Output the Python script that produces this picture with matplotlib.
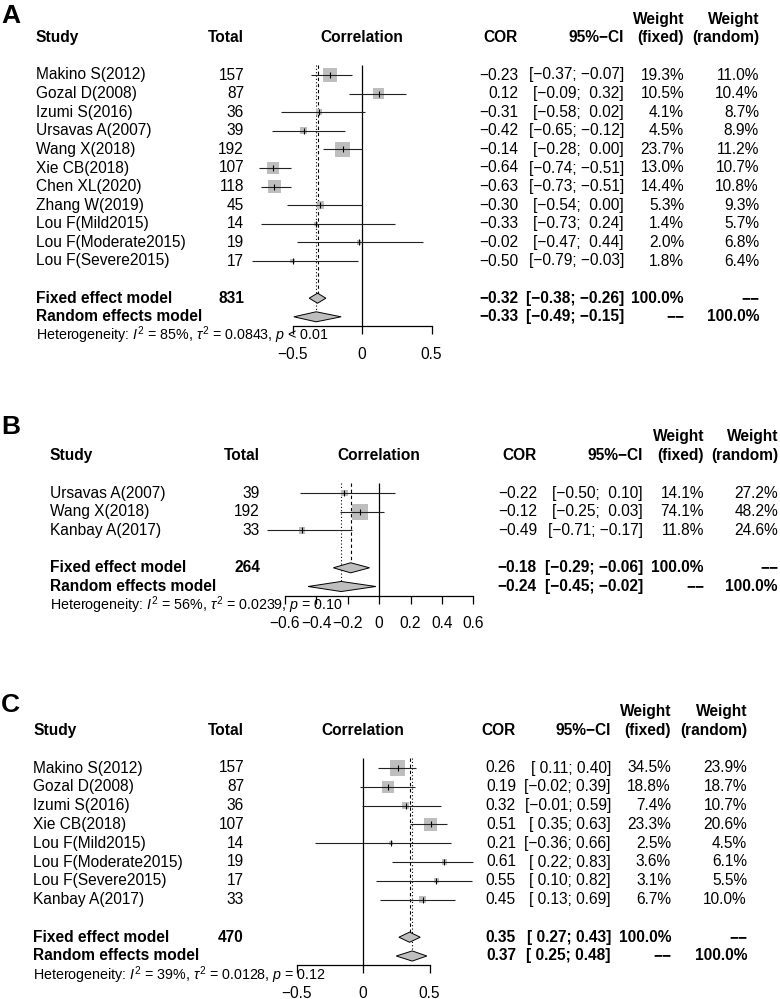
"""Three forest plots (A, B, C) of pooled correlations, meta-style layout."""
import numpy as np
import matplotlib
matplotlib.use("Agg")
import matplotlib.pyplot as plt
from matplotlib.patches import Polygon
from matplotlib.transforms import blended_transform_factory

plt.rcParams["font.family"] = ["Liberation Sans", "DejaVu Sans"]
plt.rcParams["mathtext.fontset"] = "custom"
plt.rcParams["mathtext.rm"] = "Liberation Sans"
plt.rcParams["mathtext.it"] = "Liberation Sans:italic"
plt.rcParams["mathtext.bf"] = "Liberation Sans:bold"

# ── Panel A ───────────────────────────────────────────────────────────────────
studies_a = ["Makino S(2012)", "Gozal D(2008)", "Izumi S(2016)", "Ursavas A(2007)",
             "Wang X(2018)", "Xie CB(2018)", "Chen XL(2020)", "Zhang W(2019)",
             "Lou F(Mild2015)", "Lou F(Moderate2015)", "Lou F(Severe2015)"]
total_a = [157, 87, 36, 39, 192, 107, 118, 45, 14, 19, 17]
cor_a = [-0.23, 0.12, -0.31, -0.42, -0.14, -0.64, -0.63, -0.30, -0.33, -0.02, -0.50]
lo_a = [-0.37, -0.09, -0.58, -0.65, -0.28, -0.74, -0.73, -0.54, -0.73, -0.47, -0.79]
hi_a = [-0.07, 0.32, 0.02, -0.12, 0.00, -0.51, -0.51, 0.00, 0.24, 0.44, -0.03]
wf_a = [19.3, 10.5, 4.1, 4.5, 23.7, 13.0, 14.4, 5.3, 1.4, 2.0, 1.8]
wr_a = [11.0, 10.4, 8.7, 8.9, 11.2, 10.7, 10.8, 9.3, 5.7, 6.8, 6.4]
fixed_a = (-0.32, -0.38, -0.26)
random_a = (-0.33, -0.49, -0.15)
het_a = ("85%", "0.0843", "< 0.01")
ticks_a = [-0.5, 0, 0.5]

# ── Panel B ───────────────────────────────────────────────────────────────────
studies_b = ["Ursavas A(2007)", "Wang X(2018)", "Kanbay A(2017)"]
total_b = [39, 192, 33]
cor_b = [-0.22, -0.12, -0.49]
lo_b = [-0.50, -0.25, -0.71]
hi_b = [0.10, 0.03, -0.17]
wf_b = [14.1, 74.1, 11.8]
wr_b = [27.2, 48.2, 24.6]
fixed_b = (-0.18, -0.29, -0.06)
random_b = (-0.24, -0.45, -0.02)
het_b = ("56%", "0.0239", "= 0.10")
ticks_b = [-0.6, -0.4, -0.2, 0, 0.2, 0.4, 0.6]

# ── Panel C ───────────────────────────────────────────────────────────────────
studies_c = ["Makino S(2012)", "Gozal D(2008)", "Izumi S(2016)", "Xie CB(2018)",
             "Lou F(Mild2015)", "Lou F(Moderate2015)", "Lou F(Severe2015)",
             "Kanbay A(2017)"]
total_c = [157, 87, 36, 107, 14, 19, 17, 33]
cor_c = [0.26, 0.19, 0.32, 0.51, 0.21, 0.61, 0.55, 0.45]
lo_c = [0.11, -0.02, -0.01, 0.35, -0.36, 0.22, 0.10, 0.13]
hi_c = [0.40, 0.39, 0.59, 0.63, 0.66, 0.83, 0.82, 0.69]
wf_c = [34.5, 18.8, 7.4, 23.3, 2.5, 3.6, 3.1, 6.7]
wr_c = [23.9, 18.7, 10.7, 20.6, 4.5, 6.1, 5.5, 10.0]
fixed_c = (0.35, 0.27, 0.43)
random_c = (0.37, 0.25, 0.48)
het_c = ("39%", "0.0128", "= 0.12")
ticks_c = [-0.5, 0, 0.5]

W, H = 780, 999
FS = 11.2
GREY = "#bebebe"
MINUS = "\u2212"
NONE = MINUS * 2   # "--" placeholder for the missing weight


def fmt(v):
    return f"{v:.2f}".replace("-", MINUS)


def pad_col(vals):
    """R-style column: positives get a leading space if any value is negative."""
    s = [fmt(v) for v in vals]
    if any(v < 0 for v in vals):
        s = [x if v < 0 else " " + x for x, v in zip(s, vals)]
    return s


def forest(fig, label, studies, total, cor, lo, hi, wf, wr,
           fixed, random, het, ticks, lay):
    n = len(studies)
    y0, sp, xc, xs = lay["y0"], lay["sp"], lay["xc"], lay["xs"]
    xlim = lay["xlim"]
    ytop, ybot = -0.6, n + 2.5
    top_px = y0 + ytop * sp
    bot_px = y0 + ybot * sp
    left_px = xc + xs * xlim[0]
    ax = fig.add_axes([left_px / W, 1 - bot_px / H,
                       xs * (xlim[1] - xlim[0]) / W, (bot_px - top_px) / H])
    ax.set_xlim(*xlim)
    ax.set_ylim(ybot, ytop)
    ax.patch.set_alpha(0)
    for s in ("top", "left", "right"):
        ax.spines[s].set_visible(False)
    ax.spines["bottom"].set_bounds(ticks[0], ticks[-1])
    ax.spines["bottom"].set_linewidth(0.9)
    ax.set_yticks([])
    ax.set_xticks(ticks, [f"{t:g}".replace("-", MINUS) for t in ticks])
    ax.tick_params(axis="x", direction="out", length=5.8, width=0.9,
                   labelsize=FS, pad=9)

    y = np.arange(n)
    cor = np.asarray(cor)
    wf_arr = np.asarray(wf)

    # reference lines: zero, fixed (dashed), random (dotted)
    ax.vlines(0, -0.55, ybot, color="black", lw=0.9, zorder=1)
    ax.vlines(fixed[0], -0.55, n + 1, color="black", lw=0.8,
              ls=(0, (3, 2.5)), zorder=1)
    ax.vlines(random[0], -0.55, n + 2, color="black", lw=0.8,
              ls=(0, (1, 2)), zorder=1)

    # study squares, CIs and centre ticks
    side = 11.3 * np.sqrt(wf_arr / wf_arr.max())
    ax.scatter(cor, y, marker="s", s=side ** 2, color=GREY, lw=0,
               zorder=2, clip_on=False)
    ax.hlines(y, lo, hi, color="#222222", lw=0.8, zorder=3, clip_on=False)
    ax.scatter(cor, y, marker="|", s=18, color="black", lw=0.8,
               zorder=4, clip_on=False)

    # pooled diamonds
    for (est, l, h), yy in zip([fixed, random], [n + 1, n + 2]):
        ax.add_patch(Polygon([[l, yy], [est, yy - 0.27], [h, yy], [est, yy + 0.27]],
                             closed=True, fc=GREY, ec="black", lw=0.7,
                             zorder=3, clip_on=False))

    # text columns
    tr = blended_transform_factory(fig.transFigure, ax.transData)
    cx = {k: v / W for k, v in lay["cols"].items()}

    def put(col, yy, s, ha="right", bold=False, size=FS):
        ax.text(cx[col], yy, s, transform=tr, ha=ha, va="center",
                fontsize=size, fontweight="bold" if bold else "normal")

    hy = -2
    put("study", hy, "Study", ha="left", bold=True)
    put("total", hy, "Total", bold=True)
    ax.text(0, hy, "Correlation", ha="center", va="center",
            fontsize=FS, fontweight="bold")
    put("cor", hy, "COR", bold=True)
    put("ci", hy, "95%" + MINUS + "CI", bold=True)
    put("wf", hy - 1, "Weight", bold=True)
    put("wf", hy, "(fixed)", bold=True)
    put("wr", hy - 1, "Weight", bold=True)
    put("wr", hy, "(random)", bold=True)

    los = pad_col(list(lo) + [fixed[1], random[1]])
    his = pad_col(list(hi) + [fixed[2], random[2]])
    ci = [f"[{a}; {b}]" for a, b in zip(los, his)]

    for i in range(n):
        put("study", i, studies[i], ha="left")
        put("total", i, str(total[i]))
        put("cor", i, fmt(cor[i]))
        put("ci", i, ci[i])
        put("wf", i, f"{wf[i]:.1f}%")
        put("wr", i, f"{wr[i]:.1f}%")

    put("study", n + 1, "Fixed effect model", ha="left", bold=True)
    put("total", n + 1, str(sum(total)), bold=True)
    put("cor", n + 1, fmt(fixed[0]), bold=True)
    put("ci", n + 1, ci[n], bold=True)
    put("wf", n + 1, "100.0%", bold=True)
    put("wr", n + 1, NONE, bold=True)

    put("study", n + 2, "Random effects model", ha="left", bold=True)
    put("cor", n + 2, fmt(random[0]), bold=True)
    put("ci", n + 2, ci[n + 1], bold=True)
    put("wf", n + 2, NONE, bold=True)
    put("wr", n + 2, "100.0%", bold=True)

    i2, tau2, p = het
    put("study", n + 3,
        rf"Heterogeneity: $I^2$ = {i2.replace('%', '')}%, $\tau^2$ = {tau2}, $p$ {p}",
        ha="left", size=10.3)

    fig.text(1 / W, 1 - lay["letter_y"] / H, label, fontsize=19,
             fontweight="bold", ha="left", va="center")
    return ax


fig = plt.figure(figsize=(W / 100, H / 100), dpi=100)

lay_a = dict(y0=75, sp=18.6, xc=362, xs=139, xlim=(-0.85, 0.6), letter_y=16,
             cols=dict(study=36, total=244, cor=518, ci=624, wf=684, wr=759))
lay_b = dict(y0=493, sp=18.7, xc=379, xs=157.5, xlim=(-0.85, 0.65), letter_y=427,
             cols=dict(study=50, total=260, cor=537, ci=643, wf=704, wr=778))
lay_c = dict(y0=768, sp=18.8, xc=363, xs=133, xlim=(-0.55, 0.9), letter_y=705,
             cols=dict(study=33, total=244, cor=516, ci=611, wf=671, wr=747))

forest(fig, "A", studies_a, total_a, cor_a, lo_a, hi_a, wf_a, wr_a,
       fixed_a, random_a, het_a, ticks_a, lay_a)
forest(fig, "B", studies_b, total_b, cor_b, lo_b, hi_b, wf_b, wr_b,
       fixed_b, random_b, het_b, ticks_b, lay_b)
forest(fig, "C", studies_c, total_c, cor_c, lo_c, hi_c, wf_c, wr_c,
       fixed_c, random_c, het_c, ticks_c, lay_c)

fig.savefig("out.png", dpi=100)
